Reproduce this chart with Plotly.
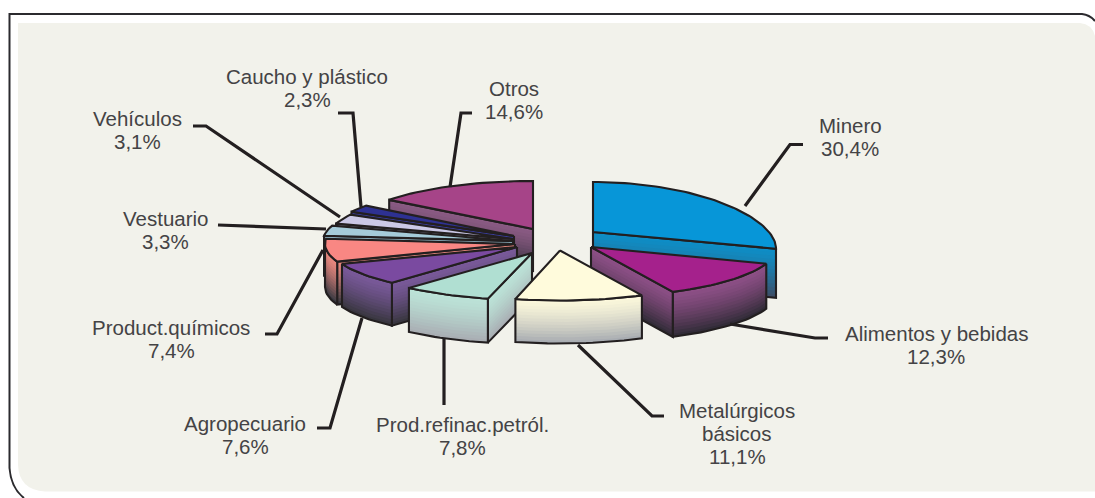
import math
import plotly.graph_objects as go

# ---- data ----
sectors = [["Minero"], ["Alimentos y bebidas"], ["Metalúrgicos", "básicos"], ["Prod.refinac.petról."],
           ["Agropecuario"], ["Product.químicos"], ["Vestuario"], ["Vehículos"], ["Caucho y plástico"], ["Otros"]]
shares = [30.4, 12.3, 11.1, 7.8, 7.6, 7.4, 3.3, 3.1, 2.3, 14.6]

# ---- styling ----
top_colors = ["#0796d8", "#a5218c", "#fffbdc", "#b0dfd2", "#7a4aa0", "#f98783", "#a5cbd9", "#cbc8e6", "#2e3192", "#a64488"]
wall_top = ["#0d8fc8", "#8f5088", "#fdf9dc", "#bce4d8", "#7b5a9c", "#ee8a80", "#96bccc", "#b5b2d2", "#3a3d9c", "#8d5c86"]
wall_bot = ["#3d4f68", "#322c38", "#a9adb2", "#a9aeb3", "#38363f", "#3a3a42", "#50606a", "#50506a", "#20205a", "#34303c"]
apex_x = [593, 591, 560, 532, 517, 515, 513, 513, 514, 533]
apex_y = [232, 247, 250.5, 253, 247, 244, 241, 239, 236, 229]
wall_h = [49, 45, 43, 44, 43, 43, 40, 40, 40, 42]
radius_x = [183, 186, 186, 184, 187, 190, 190, 186, 186, 181]
radius_y = [50, 50, 50, 47, 48, 50, 50, 50, 50, 48]
arc_stretch = [90 / 109.44, 1, 1, 1, 1, 1, 1, 1, 1, 1]
paint_order = [9, 0, 8, 7, 6, 5, 4, 3, 1, 2]
label_x = [850, 936, 737, 462, 245, 171, 165, 137, 307, 514]
label_y = [137, 345, 433, 436, 435, 339, 230, 130, 88, 100]
leaders = [
    [(803, 144.5), (790, 144.5), (745, 206)],
    [(828, 338), (815, 338), (730, 324)],
    [(664, 416), (652, 416), (578, 345)],
    [(444, 405), (444, 338)],
    [(317, 428), (330, 428), (362, 318)],
    [(265, 334), (277, 334), (323, 250)],
    [(218, 225), (326, 229)],
    [(193, 126), (206, 126), (340, 217)],
    [(338, 113), (353, 113), (361, 207)],
    [(472, 113), (461, 113), (450, 187)],
]
INK = "#231f20"
TEXT = "#444345"
PANEL = "#f2f2eb"
STRIPS = 14
LINE_GAP = 23

fig = go.Figure()


def rgb(h):
    return [int(h[i:i + 2], 16) for i in (1, 3, 5)]


def mix(a, b, t):
    ca, cb = rgb(a), rgb(b)
    return "rgb(%d,%d,%d)" % tuple(round(p + (q - p) * t) for p, q in zip(ca, cb))


def polygon(xs, ys, fill=None, line=None, width=2.1):
    fig.add_trace(go.Scatter(
        x=xs, y=ys, mode="lines", hoverinfo="skip", showlegend=False,
        fill="toself" if fill else "none", fillcolor=fill,
        line=dict(color=line or "rgba(0,0,0,0)", width=width if line else 0, shape="linear"),
    ))


def wall(xs, ys, h, c0, c1):
    for k in range(STRIPS):
        t = k / STRIPS
        px = xs + xs[::-1]
        py = [y + h * t for y in ys] + [y + h for y in ys[::-1]]
        polygon(px, py, fill=mix(c0, c1, ((k + 1) / STRIPS) ** 1.4))
    polygon(xs + xs[::-1] + xs[:1], ys + [y + h for y in ys[::-1]] + ys[:1], line=INK)


def point(i, deg):
    a = math.radians(deg)
    b = math.radians(min(deg * arc_stretch[i], 90)) if arc_stretch[i] != 1 else a
    return apex_x[i] + radius_x[i] * math.sin(b), apex_y[i] - radius_y[i] * math.cos(a)


def arc(i, d0, d1):
    n = max(2, int(abs(d1 - d0) / 2) + 1)
    pts = [point(i, d0 + (d1 - d0) * k / (n - 1)) for k in range(n)]
    return [p[0] for p in pts], [p[1] for p in pts]


total = sum(shares)
edges = [0]
for v in shares:
    edges.append(edges[-1] + v / total * 360)

for i in paint_order:
    a0, a1 = edges[i], edges[i + 1]
    h = wall_h[i]
    ax, ay = apex_x[i], apex_y[i]
    if a0 > 180:
        px, py = point(i, a0)
        wall([ax, px], [ay, py], h, wall_top[i], wall_bot[i])
    if a1 < 180:
        px, py = point(i, a1)
        wall([ax, px], [ay, py], h, wall_top[i], wall_bot[i])
    r0, r1 = max(a0, 90), min(a1, 270)
    if r1 > r0 and arc_stretch[i] == 1:
        xs, ys = arc(i, r0, r1)
        wall(xs, ys, h, wall_top[i], wall_bot[i])
    xs, ys = arc(i, a0, a1)
    polygon([ax] + xs + [ax], [ay] + ys + [ay], fill=top_colors[i], line=INK)

for path in leaders:
    fig.add_trace(go.Scatter(
        x=[p[0] for p in path], y=[p[1] for p in path], mode="lines",
        hoverinfo="skip", showlegend=False,
        line=dict(color=INK, width=3.2),
    ))

for name, v, x, y in zip(sectors, shares, label_x, label_y):
    rows = name + [f"{v:.1f}%".replace(".", ",")]
    for r, row in enumerate(rows):
        fig.add_annotation(
            x=x, y=y + (r - (len(rows) - 1) / 2) * LINE_GAP, xref="x", yref="y",
            showarrow=False, align="center", text=row,
            font=dict(family="Liberation Sans, Arial, sans-serif", size=20.5, color=TEXT),
        )

panel = "M 18 23 L 1080 23 Q 1092 24 1095 36 L 1095 491.5 L 45 491.5 Q 19 490 18 465 Z"
frame = "M 1095 21 Q 1090 15 1082 14 L 9.5 14 L 9.5 468 Q 11 488 24 498"
fig.update_layout(
    width=1095, height=498,
    margin=dict(l=0, r=0, t=0, b=0),
    paper_bgcolor="#ffffff", plot_bgcolor="#ffffff",
    xaxis=dict(range=[0, 1095], visible=False, fixedrange=True),
    yaxis=dict(range=[498, 0], visible=False, fixedrange=True),
    shapes=[
        dict(type="path", path=panel, xref="x", yref="y", fillcolor=PANEL, line=dict(width=0), layer="below"),
        dict(type="path", path=frame, xref="x", yref="y", line=dict(color="#2b2a2e", width=2), layer="below"),
    ],
)
fig.write_html("out.html", post_script="document.body.style.margin='0';document.body.style.overflow='hidden';",
               config={"displayModeBar": False})
